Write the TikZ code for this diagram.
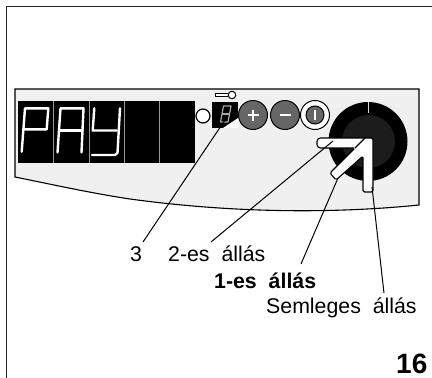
\documentclass[tikz,border=0pt]{standalone}
\usepackage{fontspec}
\setmainfont{Liberation Sans}
\definecolor{panelgray}{HTML}{F0F0F0}
\definecolor{btngray}{HTML}{666666}
\definecolor{knobdark}{HTML}{1C1C1C}
\tikzset{
  x=1pt,y=-1pt,
  frameline/.style={line width=1.9pt,draw=black!85},
  outline/.style={line width=1.1pt,draw=black},
  leader/.style={line width=1pt,draw=black},
  seg/.style={line width=2.4pt,draw=white,line cap=round,line join=round},
  divider/.style={line width=0.6pt,draw=black!40!white},
  btn/.style={circle,draw=black,line width=1pt,fill=btngray,minimum size=29pt,inner sep=0pt,text=white},
  lab/.style={font=\fontsize{21.3}{24}\selectfont,anchor=base west,inner sep=0pt},
  lever/.style={fill=white,draw=black,line width=1.1pt,line join=round,rounded corners=1.5pt}
}
\begin{document}
\begin{tikzpicture}
\useasboundingbox (0,0) rectangle (432,378);
% page frame
\draw[frameline] (6.5,378) -- (6.5,6.5) -- (432,6.5);
% panel
\draw[outline,fill=panelgray] (15,89) -- (419,89) -- (419,205)
  .. controls (340,213) and (240,214) .. (130,199)
  .. controls (90,193) and (50,184) .. (15,177) -- cycle;
% display
\fill[black] (18,101) rectangle (195,163);
\foreach \x in {53,89,124,159} \draw[divider] (\x,101) -- (\x,163);
\draw[seg] (21.7,151.7) -- (25,108.3) -- (48.3,108.3) -- (46.7,129.3) -- (23,129.3);
\draw[seg] (57.5,152.5) -- (60.5,108.3) -- (83.5,108.3) -- (81.5,152.5);
\draw[seg] (59.5,130.5) -- (82.5,130.5);
\draw[seg] (94.3,108.3) -- (92.7,130.5) -- (117,130.5);
\draw[seg] (120,108.3) -- (117.5,153) -- (115,155) -- (92,155);
% lamp
\node[circle,draw=black,line width=1.2pt,fill=white,minimum size=14pt,inner sep=0pt] (lamp) at (203,116) {};
% digit window
\fill[black] (212,102) rectangle (238,128);
\fill[white] (238,118) -- (238,128) -- (223,128) -- cycle;
\draw[line width=1.2pt,draw=black!35!white,line join=round] (223.5,106) -- (231,106) -- (228,122) -- (220.5,122) -- cycle;
\draw[line width=1.2pt,draw=black!35!white] (222,114) -- (229.5,114);
% key
\draw[line width=0.8pt,fill=white] (228,93.5) -- (215,93.5) -- (215,96.5) -- (228,96.5);
\draw[line width=1pt,fill=white] (232,95) circle (3.8);
% buttons
\node[btn] (plus) at (253,115) {};
\node[btn] (minus) at (285,115) {};
\draw[white,line width=1.6pt] (247.5,115) -- (258.5,115) (253,109.5) -- (253,120.5);
\draw[white,line width=1.6pt] (279.5,115) -- (290.5,115);
\node[circle,draw=black,line width=1pt,fill=white,minimum size=29pt,inner sep=0pt] (power) at (315,115) {};
\node[circle,draw=black,line width=1pt,fill=btngray,minimum size=18pt,inner sep=0pt] at (315,115) {};
\draw[white,line width=1.1pt] (315,110) -- (315,120);
% knob
\node[circle,fill=black,minimum size=79pt,inner sep=0pt] (knob) at (368,141.5) {};
\node[circle,fill=knobdark,minimum size=53pt,inner sep=0pt] at (368.5,141.5) {};
\draw[white!85!black,line width=1pt] (368,102) -- (368,113);
% lever
\draw[lever] (373,138) -- (319,138) -- (317,140) -- (317,146) -- (319,148) -- (355,148)
  -- (330,173) -- (336,180) -- (363,156) -- (363,192) -- (373,192) -- cycle;
\draw[line width=1.1pt] (365,138) -- (355,148);
% coordinates for leaders
\coordinate (e3) at (225,120);
\coordinate (e2) at (333,141);
\coordinate (e1) at (338,178);
\coordinate (e0) at (372,187);
\coordinate (s3) at (143,242);
\coordinate (s2) at (211,242);
\coordinate (s1) at (301,264);
\coordinate (s0) at (384,293);
\draw[leader] (e3) -- (s3);
\draw[leader] (e2) -- (s2);
\draw[leader] (e1) -- (s1);
\draw[leader] (e0) -- (s0);
% labels
\node[lab] (t3) at (130,261.5) {3};
\node[lab] (t2) at (168,261.5) {2-es\hspace{0.56em}állás};
\node[lab,font=\fontsize{21.3}{24}\selectfont\bfseries] (t1) at (214,288) {1-es\hspace{0.56em}állás};
\node[lab] (t0) at (266,313) {Semleges\hspace{0.56em}állás};
\node[lab,font=\fontsize{28}{30}\selectfont\bfseries] (page) at (396,373) {16};
\end{tikzpicture}
\end{document}
